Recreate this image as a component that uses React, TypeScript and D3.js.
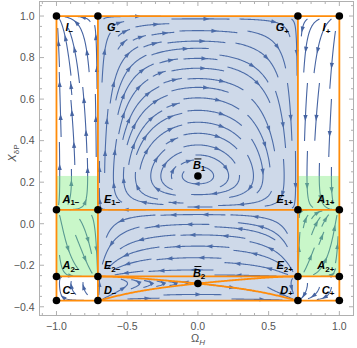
import * as d3 from "d3";
import { useMemo } from "react";

const W = 357;
const H = 348;

const xTicks = [-1, -0.5, 0, 0.5, 1];
const yTicks = [-0.4, -0.2, 0, 0.2, 0.4, 0.6, 0.8, 1];

// Ω_H of the vertical invariant lines
const omegaEdges = [-1, -0.707, 0.707, 1];
// X_δP of the horizontal invariant lines: top, A1, A2, C
const xdpEdges = [1, 0.067, -0.254, -0.37];
// X_δP of B1 (centre) and B2 (saddle)
const centres = [0.23, -0.288];
// green bands on both sides
const greenBand = [-0.254, 0.23];

// fixed points
const pointName = ["I", "G", "G", "I", "A", "E", "E", "A", "A", "E", "E", "A", "C", "D", "D", "C", "B", "B"];
const pointSub = ["−", "−", "+", "+", "1−", "1−", "1+", "1+", "2−", "2−", "2+", "2+", "−", "−", "+", "+", "1", "2"];
const pointOmega = [-1, -0.707, 0.707, 1, -1, -0.707, 0.707, 1, -1, -0.707, 0.707, 1, -1, -0.707, 0.707, 1, 0, 0];
const pointXdp = [1, 1, 1, 1, 0.067, 0.067, 0.067, 0.067, -0.254, -0.254, -0.254, -0.254, -0.37, -0.37, -0.37, -0.37, 0.23, -0.288];

const x = d3.scaleLinear().domain([-1.12, 1.1]).range([39.5, 353.5]);
const y = d3.scaleLinear().domain([-0.442, 1.07]).range([315.5, 1.5]);

const a = omegaEdges[2];
const [yTop, yA1, yA2, yC] = xdpEdges;
const [yB1, yB2] = centres;

const STREAM = "rgb(70,100,162)";
const ORANGE = "rgb(255,140,10)";
const FONT = "'Liberation Sans', Arial, sans-serif";

function field(w: number, p: number): [number, number] {
  const u = (1 - w * w) * (a * a - w * w) * (p - yB1) * (p - yB2);
  const v = -w * (p - yA1) * (p - yA2) * (p - yC) * (yTop - p);
  return [u, v];
}

const kx = x(1) - x(0);
const ky = y(0) - y(1);

function pixDir(px: number, py: number, sign: number): [number, number] | null {
  const [u, v] = field(x.invert(px), y.invert(py));
  const dx = u * kx;
  const dy = -v * ky;
  const m = Math.hypot(dx, dy);
  if (m < 1e-5) return null;
  return [(sign * dx) / m, (sign * dy) / m];
}

function region(px: number, py: number) {
  const w = x.invert(px);
  const p = y.invert(py);
  if (w < -1 || w > 1 || p < yC || p > yTop) return -1;
  const rx = w < -a ? 0 : w > a ? 2 : 1;
  const ry = p > yA1 ? 0 : p > yA2 ? 1 : 2;
  return rx * 3 + ry;
}

type Pt = [number, number];

function computeStreams() {
  const dsep = 10;
  const dtest = 5;
  const h = 1;
  const maxSteps = 58;
  const cell = dsep;
  const grid = new Map<string, Pt[]>();
  const key = (i: number, j: number) => i + "," + j;
  const near = (px: number, py: number, d: number) => {
    const ci = Math.floor(px / cell);
    const cj = Math.floor(py / cell);
    for (let i = ci - 1; i <= ci + 1; i++)
      for (let j = cj - 1; j <= cj + 1; j++) {
        const list = grid.get(key(i, j));
        if (!list) continue;
        for (const q of list) if ((q[0] - px) ** 2 + (q[1] - py) ** 2 < d * d) return true;
      }
    return false;
  };
  const add = (pt: Pt) => {
    const k = key(Math.floor(pt[0] / cell), Math.floor(pt[1] / cell));
    if (!grid.has(k)) grid.set(k, []);
    grid.get(k)!.push(pt);
  };

  const trace = (sx: number, sy: number, sign: number, own: Pt[]) => {
    const pts: Pt[] = [];
    let px = sx;
    let py = sy;
    const reg = region(sx, sy);
    for (let i = 0; i < maxSteps; i++) {
      const d1 = pixDir(px, py, sign);
      if (!d1) break;
      const d2 = pixDir(px + 0.5 * h * d1[0], py + 0.5 * h * d1[1], sign);
      if (!d2) break;
      if (d1[0] * d2[0] + d1[1] * d2[1] < 0.5) break;
      const nx = px + h * d2[0];
      const ny = py + h * d2[1];
      if (region(nx, ny) !== reg) break;
      if (near(nx, ny, dtest)) break;
      let self = false;
      for (let k = 0; k < own.length - 14; k++) {
        const q = own[k];
        if ((q[0] - nx) ** 2 + (q[1] - ny) ** 2 < dtest * dtest) {
          self = true;
          break;
        }
      }
      if (self) break;
      pts.push([nx, ny]);
      own.push([nx, ny]);
      px = nx;
      py = ny;
    }
    return pts;
  };

  const lines: Pt[][] = [];
  const x0 = x(-1), x1 = x(1), y0 = y(yTop), y1 = y(yC);
  const seeds: Pt[] = [];
  for (let sy = y0 + 3; sy < y1; sy += 4)
    for (let sx = x0 + 3; sx < x1; sx += 4) seeds.push([sx, sy]);
  for (const [sx, sy] of seeds) {
    if (region(sx, sy) < 0) continue;
    if (near(sx, sy, dsep)) continue;
    if (!pixDir(sx, sy, 1)) continue;
    const own: Pt[] = [[sx, sy]];
    const fwd = trace(sx, sy, 1, own);
    const bwd = trace(sx, sy, -1, own);
    const path: Pt[] = [...bwd.reverse(), [sx, sy], ...fwd];
    if (path.length < 10) continue;
    path.forEach(add);
    lines.push(path.map((q) => [x.invert(q[0]), y.invert(q[1])] as Pt));
  }
  return lines;
}

function computeSeparatrices() {
  // Jacobian entries at the saddle B2
  const p = a * a * (yB2 - yB1);
  const q = -(yB2 - yA1) * (yB2 - yA2) * (yB2 - yC) * (yTop - yB2);
  const lam = Math.sqrt(p * q);
  const corners: Pt[] = [
    [-a, yA2], [a, yA2], [-a, yC], [a, yC],
  ];
  const bx = x(0), by = y(yB2);
  const branches: Pt[][] = [];
  const dirs: [number, number, number][] = [
    [1, lam / p, 1],
    [-1, -lam / p, 1],
    [1, -lam / p, -1],
    [-1, lam / p, -1],
  ];
  for (const [ex, ey, sign] of dirs) {
    let dx = ex * kx, dy = -ey * ky;
    const m = Math.hypot(dx, dy);
    dx /= m; dy /= m;
    let px = bx + 2 * dx, py = by + 2 * dy;
    const pts: Pt[] = [[bx, by], [px, py]];
    for (let i = 0; i < 600; i++) {
      const d1 = pixDir(px, py, sign);
      if (!d1) break;
      const d2 = pixDir(px + 0.5 * d1[0], py + 0.5 * d1[1], sign);
      if (!d2) break;
      const nx = px + d2[0], ny = py + d2[1];
      if (Math.abs(x.invert(nx)) >= a || y.invert(ny) > yA2 || y.invert(ny) < yC) break;
      px = nx; py = ny;
      pts.push([px, py]);
      const close = corners.some((c) => Math.hypot(x(c[0]) - px, y(c[1]) - py) < 2);
      if (close) break;
    }
    let best = corners[0], bd = Infinity;
    for (const c of corners) {
      const d = Math.hypot(x(c[0]) - px, y(c[1]) - py);
      if (d < bd) { bd = d; best = c; }
    }
    const data = pts.map((t) => [x.invert(t[0]), y.invert(t[1])] as Pt);
    data.push(best);
    branches.push(data);
  }
  return branches;
}

function arrows(path: Pt[]) {
  const pts = path.map((d) => [x(d[0]), y(d[1])] as Pt);
  const cum = [0];
  for (let i = 1; i < pts.length; i++)
    cum.push(cum[i - 1] + Math.hypot(pts[i][0] - pts[i - 1][0], pts[i][1] - pts[i - 1][1]));
  const L = cum[cum.length - 1];
  const n = Math.max(1, Math.round(L / 42));
  const out: string[] = [];
  for (let k = 0; k < n; k++) {
    const s = ((k + 0.6) * L) / n;
    let i = 1;
    while (i < pts.length - 1 && cum[i] < s) i++;
    const p0 = pts[Math.max(0, i - 2)], p1 = pts[Math.min(pts.length - 1, i + 1)];
    let tx = p1[0] - p0[0], ty = p1[1] - p0[1];
    const m = Math.hypot(tx, ty) || 1;
    tx /= m; ty /= m;
    const c = pts[i];
    const tip: Pt = [c[0] + tx * 3.2, c[1] + ty * 3.2];
    const b: Pt = [c[0] - tx * 3, c[1] - ty * 3];
    out.push(
      `M${tip[0]},${tip[1]}L${b[0] - ty * 2.1},${b[1] + tx * 2.1}L${b[0] + ty * 2.1},${b[1] - tx * 2.1}Z`
    );
  }
  return out.join("");
}

export default function App() {
  const streams = useMemo(computeStreams, []);
  const seps = useMemo(computeSeparatrices, []);
  const line = d3
    .line<Pt>()
    .x((d) => x(d[0]))
    .y((d) => y(d[1]))
    .curve(d3.curveLinear);

  const fx0 = x.range()[0], fx1 = x.range()[1];
  const fy0 = y.range()[1], fy1 = y.range()[0];
  const xMinor = d3.range(-11, 12).map((i) => i / 10);
  const yMinor = d3.range(-8, 22).map((i) => i / 20);

  const hLines = xdpEdges.map((v) => ({ x1: x(-1), x2: x(1), y1: y(v), y2: y(v) }));
  const vLines = omegaEdges.map((v) => ({ x1: x(v), x2: x(v), y1: y(yTop), y2: y(yC) }));

  return (
    <svg width={W} height={H} style={{ position: "absolute", left: 0, top: 0, background: "#fff" }}>
      <g>
        {streams.map((s, i) => (
          <g key={i}>
            <path d={line(s) ?? ""} fill="none" stroke={STREAM} strokeWidth={1.1} />
            <path d={arrows(s)} fill={STREAM} />
          </g>
        ))}
      </g>
      {/* shaded regions */}
      <rect
        x={x(-a)}
        y={y(yTop)}
        width={x(a) - x(-a)}
        height={y(yC) - y(yTop)}
        fill="rgb(94,129,181)"
        opacity={0.3}
      />
      {[[-1, -a], [a, 1]].map(([l, r], i) => (
        <rect
          key={i}
          x={x(l)}
          y={y(greenBand[1])}
          width={x(r) - x(l)}
          height={y(greenBand[0]) - y(greenBand[1])}
          fill="rgb(120,235,120)"
          opacity={0.4}
        />
      ))}
      {/* invariant lines */}
      <g stroke={ORANGE} strokeWidth={1.8} fill="none">
        {[...hLines, ...vLines].map((l, i) => (
          <line key={i} {...l} />
        ))}
        {seps.map((s, i) => (
          <path key={i} d={line(s) ?? ""} />
        ))}
      </g>
      {/* fixed points */}
      {pointOmega.map((w, i) => (
        <circle key={i} cx={x(w)} cy={y(pointXdp[i])} r={3.8} fill="#000" />
      ))}
      <g fontFamily={FONT} fontWeight="bold" fontStyle="italic" fontSize={11} fill="#000">
        {pointName.map((n, i) => {
          const w = pointOmega[i];
          const top = pointXdp[i] === yTop;
          const px = x(w) + (w === 0 ? -5 : w < 0 ? (top ? 9 : 6) : top ? -9 : -5);
          const py = y(pointXdp[i]) + (top ? 15 : -7);
          const anchor = w === 0 ? "start" : w < 0 ? "start" : "end";
          return (
            <g key={i}>
              <text x={px} y={py} textAnchor={anchor}>
                {n}
                <tspan fontSize={8} dy={2.5} fontStyle="normal">
                  {pointSub[i]}
                </tspan>
              </text>
              {n === "B" && (
                <line x1={px + 1.5} x2={px + 8.5} y1={py - 10} y2={py - 10} stroke="#000" strokeWidth={1} />
              )}
            </g>
          );
        })}
      </g>
      {/* frame */}
      <rect x={fx0} y={fy0} width={fx1 - fx0} height={fy1 - fy0} fill="none" stroke="#b0b0b0" strokeWidth={1} />
      <g stroke="#b0b0b0" strokeWidth={1}>
        {xMinor.map((v, i) => {
          const major = Math.abs(v * 2 - Math.round(v * 2)) < 1e-6;
          const len = major ? 4.5 : 2.5;
          return (
            <g key={i}>
              <line x1={x(v)} x2={x(v)} y1={fy1} y2={fy1 - len} />
              <line x1={x(v)} x2={x(v)} y1={fy0} y2={fy0 + len} />
            </g>
          );
        })}
        {yMinor.map((v, i) => {
          const major = Math.abs(v * 5 - Math.round(v * 5)) < 1e-6;
          const len = major ? 4.5 : 2.5;
          return (
            <g key={i}>
              <line x1={fx0} x2={fx0 + len} y1={y(v)} y2={y(v)} />
              <line x1={fx1} x2={fx1 - len} y1={y(v)} y2={y(v)} />
            </g>
          );
        })}
      </g>
      <g fontFamily={FONT} fontSize={10.5} fill="#555">
        {xTicks.map((v) => (
          <text key={v} x={x(v)} y={fy1 + 14} textAnchor="middle">
            {d3.format(".1f")(v).replace("-", "−")}
          </text>
        ))}
        {yTicks.map((v) => (
          <text key={v} x={fx0 - 5} y={y(v) + 3.8} textAnchor="end">
            {d3.format(".1f")(v).replace("-", "−")}
          </text>
        ))}
        <text x={x(0)} y={342} textAnchor="middle" fontSize={11}>
          Ω
          <tspan fontSize={8} dy={2.5} fontStyle="italic">
            H
          </tspan>
        </text>
        <text transform={`translate(16,${y(0.34)}) rotate(-90)`} textAnchor="middle" fontSize={11}>
          <tspan fontStyle="italic">X</tspan>
          <tspan fontSize={8} dy={2.5}>
            δP
          </tspan>
        </text>
      </g>
    </svg>
  );
}
